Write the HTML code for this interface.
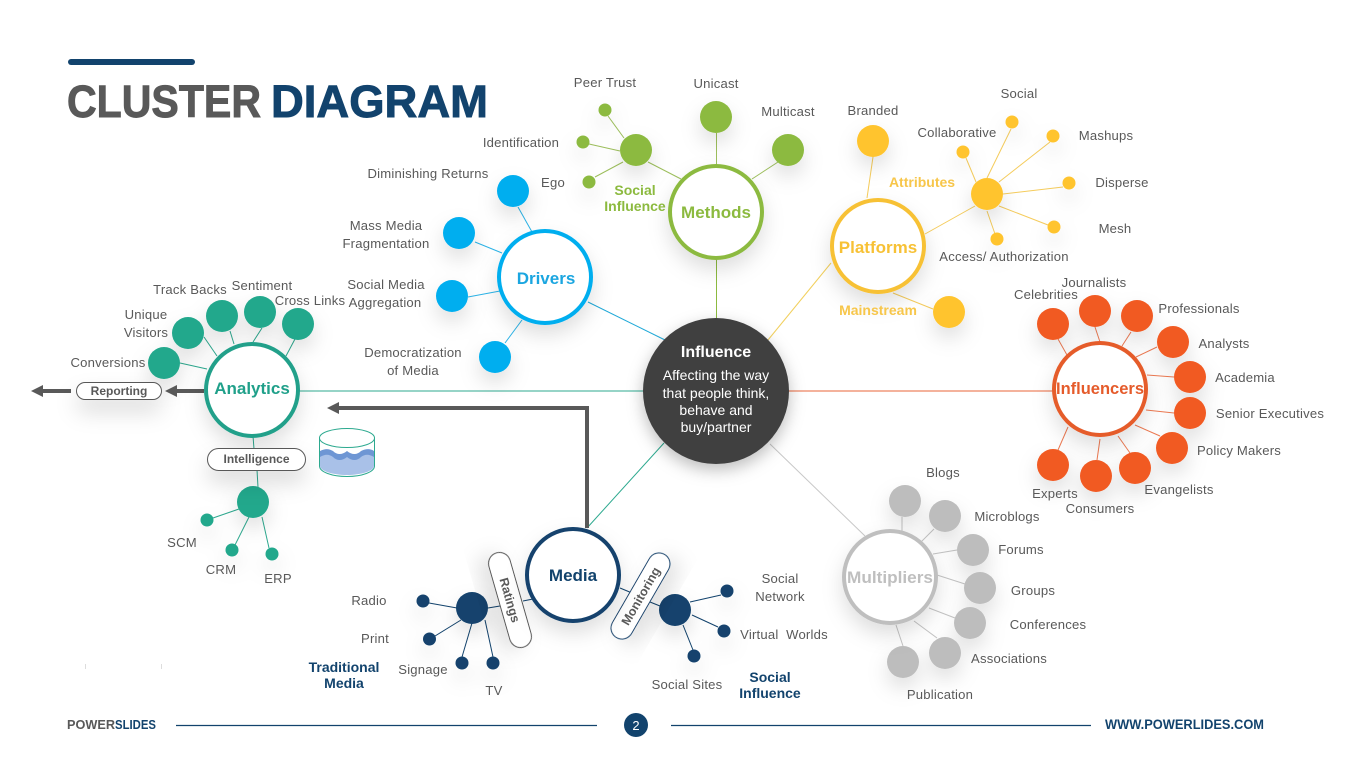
<!DOCTYPE html>
<html lang="en"><head><meta charset="utf-8"><title>Cluster Diagram</title>
<style>
html,body{margin:0;padding:0;background:#fff;width:1365px;height:767px;overflow:hidden}
svg{display:block}
text{font-family:"Liberation Sans",sans-serif}
.l{font-size:13.1px;fill:#595959;text-anchor:middle;letter-spacing:.2px;white-space:pre}
.h{font-size:17px;font-weight:bold;text-anchor:middle}
.b{font-size:14px;font-weight:bold;text-anchor:middle}
.hub{fill:#fff;stroke-width:4;filter:url(#s)}
.n{filter:url(#s)}
.pill{filter:url(#p)}
</style></head><body>
<svg xmlns="http://www.w3.org/2000/svg" width="1365" height="767" viewBox="0 0 1365 767">
<defs>
<filter id="s" x="-70%" y="-70%" width="240%" height="260%"><feDropShadow dx="0" dy="10" stdDeviation="10" flood-color="#000" flood-opacity=".13"/></filter>
<filter id="p" x="-40%" y="-150%" width="180%" height="500%"><feDropShadow dx="0" dy="12" stdDeviation="11" flood-color="#000" flood-opacity=".14"/></filter>
<filter id="c" x="-40%" y="-40%" width="180%" height="190%"><feDropShadow dx="0" dy="6" stdDeviation="8" flood-color="#000" flood-opacity=".26"/></filter>
</defs>
<rect width="1365" height="767" fill="#fff"/>

<!-- title -->
<rect x="68" y="59" width="127" height="6" rx="3" fill="#12436D"/>
<text x="67" y="117" font-size="45" font-weight="bold" fill="#595959" stroke="#595959" stroke-width=".9" textLength="194" lengthAdjust="spacingAndGlyphs">CLUSTER</text>
<text x="271" y="117" font-size="45" font-weight="bold" fill="#12436D" stroke="#12436D" stroke-width=".9" textLength="217" lengthAdjust="spacingAndGlyphs">DIAGRAM</text>

<!-- center spokes -->
<g stroke-width="1" fill="none">
<line x1="588" y1="302" x2="665" y2="340" stroke="#20A9D8"/>
<line x1="716.500" y1="258" x2="716.500" y2="320" stroke="#8CBA3F"/>
<line x1="768" y1="340" x2="831" y2="263" stroke="#F2D05E"/>
<line x1="788" y1="391" x2="1054" y2="391" stroke="#E9653A"/>
<line x1="770" y1="444" x2="865" y2="536" stroke="#C8C8C8"/>
<line x1="587" y1="528" x2="664" y2="443" stroke="#2DA98F"/>
<line x1="644" y1="391" x2="299" y2="391" stroke="#2DA98F"/>
</g>

<!-- Drivers -->
<g stroke="#2CB4E8" stroke-width="1">
<line x1="518" y1="207" x2="532" y2="232"/><line x1="475" y1="242" x2="502" y2="253"/><line x1="468" y1="297" x2="500" y2="291"/><line x1="505" y1="343" x2="522" y2="320"/>
</g>
<g fill="#00AEEF" class="n"><circle cx="513" cy="191" r="16"/><circle cx="459" cy="233" r="16"/><circle cx="452" cy="296" r="16"/><circle cx="495" cy="357" r="16"/></g>
<circle class="hub" cx="545" cy="277" r="46" stroke="#00AEEF"/>
<text class="h" x="546" y="284" fill="#1BA6E0">Drivers</text>
<text class="l" x="428" y="178">Diminishing Returns</text>
<text class="l" x="386" y="230">Mass Media</text><text class="l" x="386" y="248">Fragmentation</text>
<text class="l" x="386" y="289">Social Media</text><text class="l" x="385" y="307">Aggregation</text>
<text class="l" x="413" y="357">Democratization</text><text class="l" x="413" y="375">of Media</text>

<!-- Methods -->
<g stroke="#9DBF5C" stroke-width="1">
<line x1="648" y1="162" x2="681" y2="179"/><line x1="716.500" y1="133" x2="716.500" y2="166"/><line x1="778" y1="162" x2="752" y2="179"/>
<line x1="608" y1="116" x2="624" y2="138"/><line x1="589" y1="144" x2="620" y2="151"/><line x1="595" y1="177" x2="623" y2="162"/>
</g>
<g fill="#8CBA3F" class="n"><circle cx="636" cy="150" r="16"/><circle cx="716" cy="117" r="16"/><circle cx="788" cy="150" r="16"/><circle cx="605" cy="110" r="6.5"/><circle cx="583" cy="142" r="6.5"/><circle cx="589" cy="182" r="6.5"/></g>
<circle class="hub" cx="716" cy="212" r="46" stroke="#8CBA3F"/>
<text class="h" x="716" y="218" fill="#8CBA3F">Methods</text>
<text class="b" x="635" y="195" fill="#8CBA3F">Social</text><text class="b" x="635" y="211" fill="#8CBA3F">Influence</text>
<text class="l" x="605" y="87">Peer Trust</text><text class="l" x="521" y="147">Identification</text><text class="l" x="553" y="187">Ego</text>
<text class="l" x="716" y="88">Unicast</text><text class="l" x="788" y="116">Multicast</text>

<!-- Platforms -->
<g stroke="#F5CC5C" stroke-width="1">
<line x1="873" y1="157" x2="867" y2="198"/><line x1="975" y1="206" x2="925" y2="234"/><line x1="893" y1="293" x2="933" y2="309"/>
<line x1="1011" y1="129" x2="987" y2="178"/><line x1="1050" y1="142" x2="999" y2="182"/><line x1="1063" y1="187" x2="1003" y2="194"/><line x1="1048" y1="225" x2="999" y2="206"/><line x1="995" y1="234" x2="987" y2="211"/><line x1="966" y1="158" x2="976" y2="182"/>
</g>
<g fill="#FFC42E" class="n"><circle cx="873" cy="141" r="16"/><circle cx="987" cy="194" r="16"/><circle cx="949" cy="312" r="16"/><circle cx="1012" cy="122" r="6.5"/><circle cx="1053" cy="136" r="6.5"/><circle cx="1069" cy="183" r="6.5"/><circle cx="1054" cy="227" r="6.5"/><circle cx="997" cy="239" r="6.5"/><circle cx="963" cy="152" r="6.5"/></g>
<circle class="hub" cx="878" cy="246" r="46" stroke="#F7C135"/>
<text class="h" x="878" y="253" fill="#F7C135">Platforms</text>
<text class="b" x="922" y="187" fill="#F7C64A">Attributes</text><text class="b" x="878" y="315" fill="#F7C64A">Mainstream</text>
<text class="l" x="873" y="115">Branded</text><text class="l" x="957" y="137">Collaborative</text><text class="l" x="1019" y="98">Social</text><text class="l" x="1106" y="140">Mashups</text><text class="l" x="1122" y="187">Disperse</text><text class="l" x="1115" y="233">Mesh</text><text class="l" x="1004" y="261">Access/ Authorization</text>

<!-- Influencers -->
<g stroke="#EE7A52" stroke-width="1">
<line x1="1058" y1="339" x2="1067" y2="355"/><line x1="1095" y1="327" x2="1100" y2="342"/><line x1="1131" y1="332" x2="1122" y2="346"/><line x1="1157" y1="347" x2="1136" y2="357"/><line x1="1174" y1="377" x2="1147" y2="375"/><line x1="1174" y1="413" x2="1146" y2="410"/><line x1="1160" y1="436" x2="1135" y2="425"/><line x1="1130" y1="453" x2="1118" y2="436"/><line x1="1097" y1="460" x2="1100" y2="439"/><line x1="1058" y1="450" x2="1068" y2="427"/>
</g>
<g fill="#F15A24" class="n"><circle cx="1053" cy="324" r="16"/><circle cx="1095" cy="311" r="16"/><circle cx="1137" cy="316" r="16"/><circle cx="1173" cy="342" r="16"/><circle cx="1190" cy="377" r="16"/><circle cx="1190" cy="413" r="16"/><circle cx="1172" cy="448" r="16"/><circle cx="1135" cy="468" r="16"/><circle cx="1096" cy="476" r="16"/><circle cx="1053" cy="465" r="16"/></g>
<circle class="hub" cx="1100" cy="389" r="46" stroke="#E55B2B"/>
<text class="h" x="1100" y="394" fill="#E55B2B" textLength="88" lengthAdjust="spacingAndGlyphs">Influencers</text>
<text class="l" x="1046" y="299">Celebrities</text><text class="l" x="1094" y="287">Journalists</text><text class="l" x="1199" y="313">Professionals</text><text class="l" x="1224" y="348">Analysts</text><text class="l" x="1245" y="382">Academia</text><text class="l" x="1270" y="418">Senior Executives</text><text class="l" x="1239" y="455">Policy Makers</text><text class="l" x="1179" y="494">Evangelists</text><text class="l" x="1100" y="513">Consumers</text><text class="l" x="1055" y="498">Experts</text>

<!-- Multipliers -->
<g stroke="#C4C4C4" stroke-width="1">
<line x1="902" y1="517" x2="902" y2="532"/><line x1="934" y1="529" x2="921" y2="542"/><line x1="957" y1="550" x2="933" y2="554"/><line x1="965" y1="584" x2="937" y2="575"/><line x1="955" y1="618" x2="929" y2="608"/><line x1="937" y1="638" x2="914" y2="621"/><line x1="903" y1="646" x2="896" y2="625"/>
</g>
<g fill="#BDBDBD" class="n"><circle cx="905" cy="501" r="16"/><circle cx="945" cy="516" r="16"/><circle cx="973" cy="550" r="16"/><circle cx="980" cy="588" r="16"/><circle cx="970" cy="623" r="16"/><circle cx="945" cy="653" r="16"/><circle cx="903" cy="662" r="16"/></g>
<circle class="hub" cx="890" cy="577" r="46" stroke="#BFBFBF"/>
<text class="h" x="890" y="583" fill="#BFBFBF" textLength="86" lengthAdjust="spacingAndGlyphs">Multipliers</text>
<text class="l" x="943" y="477">Blogs</text><text class="l" x="1007" y="521">Microblogs</text><text class="l" x="1021" y="554">Forums</text><text class="l" x="1033" y="595">Groups</text><text class="l" x="1048" y="629">Conferences</text><text class="l" x="1009" y="663">Associations</text><text class="l" x="940" y="699">Publication</text>

<!-- Media -->
<g stroke="#12436D" stroke-width="1">
<line x1="523" y1="601" x2="533" y2="599"/><line x1="488" y1="608" x2="500" y2="606"/><line x1="620" y1="588" x2="632" y2="593"/><line x1="650" y1="602" x2="660" y2="606"/>
<line x1="429" y1="603" x2="457" y2="608"/><line x1="435" y1="636" x2="461" y2="620"/><line x1="472" y1="623" x2="462" y2="657"/><line x1="485" y1="620" x2="493" y2="657"/>
<line x1="690" y1="602" x2="721" y2="595"/><line x1="692" y1="615" x2="718" y2="627"/><line x1="683" y1="625" x2="693" y2="650"/>
</g>
<g fill="#12436D" class="n"><circle cx="472" cy="608" r="16"/><circle cx="675" cy="610" r="16"/><circle cx="423" cy="601" r="6.5"/><circle cx="429.500" cy="639" r="6.5"/><circle cx="462" cy="663" r="6.5"/><circle cx="493" cy="663" r="6.5"/><circle cx="727" cy="591" r="6.5"/><circle cx="724" cy="631" r="6.5"/><circle cx="694" cy="656" r="6.5"/></g>
<g transform="translate(510,600) rotate(74)"><rect class="n" x="-49" y="-11" width="98" height="22" rx="11" fill="#fff" stroke="#555" stroke-width="1"/><text x="0" y="4.5" font-size="12.5" font-weight="bold" fill="#595959" text-anchor="middle">Ratings</text></g>
<g transform="translate(640.500,596) rotate(-60)"><rect class="n" x="-48" y="-11" width="96" height="22" rx="11" fill="#fff" stroke="#12436D" stroke-width="1"/><text x="0" y="4.5" font-size="12.5" font-weight="bold" fill="#595959" text-anchor="middle">Monitoring</text></g>
<path d="M587 528V408H338" fill="none" stroke="#595959" stroke-width="4"/>
<path d="M327 408L339 402V414Z" fill="#595959"/>
<circle class="hub" cx="573" cy="575" r="46" stroke="#12436D"/>
<text class="h" x="573" y="581" fill="#12436D">Media</text>
<text class="b" x="344" y="672" fill="#12436D">Traditional</text><text class="b" x="344" y="688" fill="#12436D">Media</text>
<text class="b" x="770" y="682" fill="#12436D">Social</text><text class="b" x="770" y="698" fill="#12436D">Influence</text>
<text class="l" x="369" y="605">Radio</text><text class="l" x="375" y="643">Print</text><text class="l" x="423" y="674">Signage</text><text class="l" x="494" y="695">TV</text>
<text class="l" x="780" y="583">Social</text><text class="l" x="780" y="601">Network</text><text class="l" x="784" y="639">Virtual  Worlds</text><text class="l" x="687" y="689">Social Sites</text>

<!-- Analytics -->
<g stroke="#2DA98F" stroke-width="1">
<line x1="180" y1="363" x2="207" y2="369"/><line x1="204" y1="337" x2="217" y2="356"/><line x1="230" y1="331" x2="234" y2="344"/><line x1="262" y1="328" x2="253" y2="342"/><line x1="295" y1="339" x2="286" y2="356"/>
<line x1="253" y1="436" x2="254" y2="449"/><line x1="257" y1="470" x2="258" y2="487"/>
<line x1="239" y1="509" x2="213" y2="518"/><line x1="249" y1="517" x2="235" y2="545"/><line x1="262" y1="517" x2="269" y2="548"/>
</g>
<g fill="#20A88C" class="n"><circle cx="164" cy="363" r="16"/><circle cx="188" cy="333" r="16"/><circle cx="222" cy="316" r="16"/><circle cx="260" cy="312" r="16"/><circle cx="298" cy="324" r="16"/><circle cx="253" cy="502" r="16"/><circle cx="207" cy="520" r="6.5"/><circle cx="232" cy="550" r="6.5"/><circle cx="272" cy="554" r="6.5"/></g>
<path d="M204 391H176" stroke="#595959" stroke-width="4"/><path d="M165 391L177 385V397Z" fill="#595959"/>
<path d="M71 391H42" stroke="#595959" stroke-width="4"/><path d="M31 391L43 385V397Z" fill="#595959"/>
<circle class="hub" cx="252" cy="390" r="46" stroke="#20A08A"/>
<text class="h" x="252" y="394" fill="#20A08A">Analytics</text>
<rect class="pill" x="76.500" y="382.500" width="85" height="17" rx="8.5" fill="#fff" stroke="#595959"/>
<text x="119" y="395" font-size="12" font-weight="bold" fill="#595959" text-anchor="middle">Reporting</text>
<rect class="pill" x="207.500" y="448.500" width="98" height="22" rx="11" fill="#fff" stroke="#595959"/>
<text x="256.500" y="463" font-size="12" font-weight="bold" fill="#595959" text-anchor="middle">Intelligence</text>
<text class="l" x="108" y="367">Conversions</text><text class="l" x="146" y="319">Unique</text><text class="l" x="146" y="337">Visitors</text><text class="l" x="190" y="294">Track Backs</text><text class="l" x="262" y="290">Sentiment</text><text class="l" x="310" y="305">Cross Links</text>
<text class="l" x="182" y="547">SCM</text><text class="l" x="221" y="574">CRM</text><text class="l" x="278" y="583">ERP</text>

<!-- cylinder -->
<path d="M319.500 438V466C319.500 472 332 476.500 347 476.500S374.500 472 374.500 466V438Z" fill="#fff" stroke="#2DA98F"/>
<path d="M320 453C326 450 329 450 333 452C337 456 341 456 347 452C352 456 357 456 361 452C365 450 370 450 374 453V466C374 471 361 475 347 475S320 471 320 466Z" fill="#A9C1E8"/>
<path d="M320 451C326 448 329 449 333 451C337 455 342 455 347 451C352 455 357 455 361 451C365 449 370 448 374 451V457C369 454 365 454 361 457C357 461 352 461 347 457C342 461 337 461 333 457C329 454 325 454 320 457Z" fill="#6E96D4"/>
<ellipse cx="347" cy="438" rx="27.500" ry="9.500" fill="#fff" stroke="#2DA98F"/>

<!-- center -->
<circle cx="716" cy="391" r="73" fill="#3F3F3F" filter="url(#c)"/>
<text x="716" y="357" font-size="16" font-weight="bold" fill="#fff" text-anchor="middle">Influence</text>
<g font-size="14" fill="#fff" text-anchor="middle"><text x="716" y="380">Affecting the way</text><text x="716" y="398">that people think,</text><text x="716" y="415">behave and</text><text x="716" y="432">buy/partner</text></g>

<!-- ticks -->
<path d="M85.500 664V669M161.500 664V669" stroke="#ddd"/>

<!-- footer -->
<text x="67" y="729" font-size="13" font-weight="bold" fill="#595959" textLength="48" lengthAdjust="spacingAndGlyphs">POWER</text>
<text x="115" y="729" font-size="13" font-weight="bold" fill="#12436D" textLength="41" lengthAdjust="spacingAndGlyphs">SLIDES</text>
<line x1="176" y1="725.500" x2="597" y2="725.500" stroke="#12436D" stroke-width="1.200"/>
<circle cx="636" cy="725" r="12" fill="#12436D"/>
<text x="636" y="730" font-size="13" fill="#fff" text-anchor="middle">2</text>
<line x1="671" y1="725.500" x2="1091" y2="725.500" stroke="#12436D" stroke-width="1.200"/>
<text x="1105" y="729" font-size="13.500" font-weight="bold" fill="#12436D" textLength="159" lengthAdjust="spacingAndGlyphs">WWW.POWERLIDES.COM</text>
</svg>
</body></html>
